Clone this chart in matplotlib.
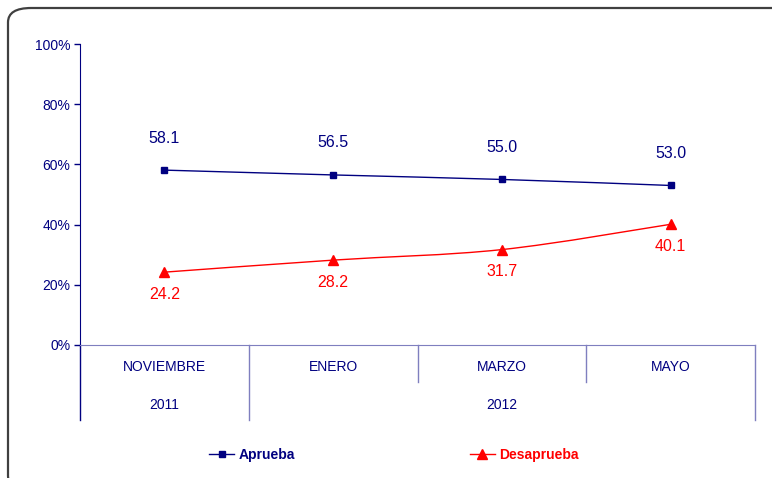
import numpy as np
import matplotlib.pyplot as plt
from matplotlib.path import Path
from matplotlib.patches import PathPatch, FancyBboxPatch
from matplotlib.lines import Line2D

plt.rcParams['font.family'] = ['Liberation Sans', 'DejaVu Sans']

meses = ["NOVIEMBRE", "ENERO", "MARZO", "MAYO"]
anios = ["2011", "2012"]
anio_span = [(0, 0), (1, 3)]          # indice de meses que abarca cada año
aprueba = [58.1, 56.5, 55.0, 53.0]
desaprueba = [24.2, 28.2, 31.7, 40.1]

azul = "#000080"
rojo = "#ff0000"
gris_eje = "#7f7fbf"


def curva_suave(x, y, t=1/6):
    #Curva tipo Catmull-Rom (como la linea suavizada de Excel)
    x = np.asarray(x, float)
    y = np.asarray(y, float)
    verts = [(x[0], y[0])]
    codes = [Path.MOVETO]
    n = len(x)
    for i in range(n - 1):
        p0 = (x[max(i - 1, 0)], y[max(i - 1, 0)])
        p1 = (x[i], y[i])
        p2 = (x[i + 1], y[i + 1])
        p3 = (x[min(i + 2, n - 1)], y[min(i + 2, n - 1)])
        c1 = (p1[0] + (p2[0] - p0[0]) * t, p1[1] + (p2[1] - p0[1]) * t)
        c2 = (p2[0] - (p3[0] - p1[0]) * t, p2[1] - (p3[1] - p1[1]) * t)
        verts += [c1, c2, p2]
        codes += [Path.CURVE4] * 3
    return Path(verts, codes)


fig = plt.figure(figsize=(7.72, 4.78), dpi=100)
W, H = 772, 478

#Marco redondeado
marco = FancyBboxPatch((8 / W, 1 - 490 / H), 790 / W, 482 / H,
                       boxstyle="round,pad=0,rounding_size=0.03",
                       transform=fig.transFigure, fill=False,
                       edgecolor="#404040", linewidth=1.6, clip_on=False)
fig.patches.append(marco)

ax = fig.add_axes([80 / W, 1 - 345 / H, 675 / W, 301 / H])
x = np.arange(len(meses))

ax.add_patch(PathPatch(curva_suave(x, aprueba), fill=False, edgecolor=azul, lw=1.0))
ax.add_patch(PathPatch(curva_suave(x, desaprueba), fill=False, edgecolor=rojo, lw=1.0))
ax.plot(x, aprueba, ls="none", marker="s", ms=5, color=azul)
ax.plot(x, desaprueba, ls="none", marker="^", ms=7, color=rojo)

for xi, v in zip(x, aprueba):
    ax.annotate(f"{v:.1f}", (xi, v), xytext=(0, 23), textcoords="offset points",
                ha="center", va="center", fontsize=11.5, color=azul)
for xi, v in zip(x, desaprueba):
    ax.annotate(f"{v:.1f}", (xi, v), xytext=(0, -16), textcoords="offset points",
                ha="center", va="center", fontsize=11.5, color=rojo)

ax.set_xlim(-0.5, len(meses) - 0.5)
ax.set_ylim(0, 100)
ax.set_yticks(np.arange(0, 101, 20))
ax.set_yticklabels([f"{v}%" for v in range(0, 101, 20)])
ax.tick_params(axis="y", direction="out", length=4, width=1, color=azul,
               labelcolor=azul, labelsize=10, pad=3)
ax.set_xticks([])
for s in ["top", "right"]:
    ax.spines[s].set_visible(False)
ax.spines["left"].set_color(azul)
ax.spines["bottom"].set_color(gris_eje)
ax.spines["left"].set_bounds(0, 100)

#Etiquetas de categorias en dos niveles
tr = ax.get_xaxis_transform()
y_mes, y_anio = -0.072, -0.2
y_corto, y_largo = -0.123, -0.249
ax.plot([-0.5, -0.5], [0, y_largo], transform=tr, color=azul, lw=1, clip_on=False)
for xi, m in zip(x, meses):
    ax.text(xi, y_mes, m, transform=tr, ha="center", va="center", fontsize=10, color=azul)
limites_anio = [b + 0.5 for a, b in anio_span]
for i in range(len(meses)):
    xb = i + 0.5
    yb = y_largo if xb in limites_anio else y_corto
    ax.plot([xb, xb], [0, yb], transform=tr, color=gris_eje, lw=1, clip_on=False)
for a, (i0, i1) in zip(anios, anio_span):
    ax.text((i0 + i1) / 2, y_anio, a, transform=tr, ha="center", va="center",
            fontsize=10, color=azul)

#Leyenda
h1 = Line2D([], [], color=azul, marker="s", ms=5, lw=1)
h2 = Line2D([], [], color=rojo, marker="^", ms=7, lw=1)
leg = fig.legend([h1, h2], ["Aprueba", "Desaprueba"], loc="center",
                 bbox_to_anchor=(0.51, 1 - 455 / H), ncol=2, frameon=False,
                 handlelength=1.8, handletextpad=0.3, columnspacing=12.6,
                 prop={"size": 10, "weight": "bold"})
for txt, c in zip(leg.get_texts(), [azul, rojo]):
    txt.set_color(c)

fig.savefig("out.png", dpi=100)
